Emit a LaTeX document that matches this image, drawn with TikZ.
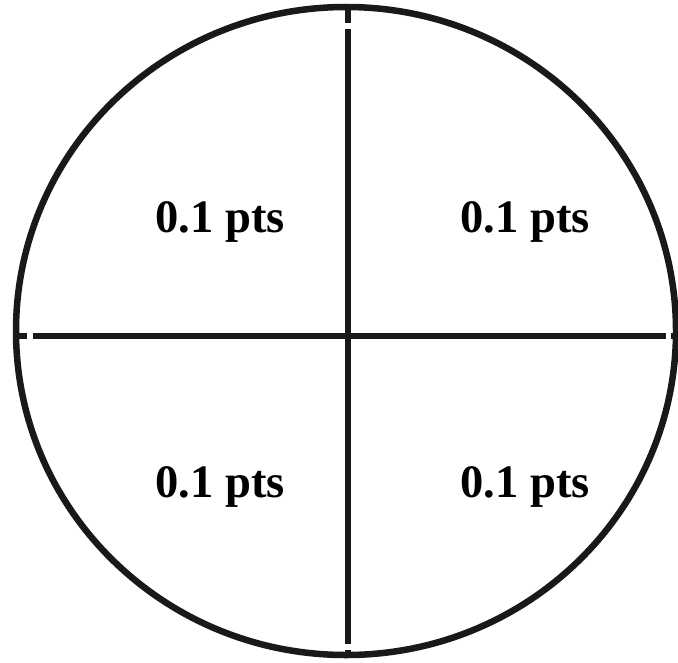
\documentclass[tikz,border=0pt]{standalone}
\usepackage{fontspec}
\setmainfont{Liberation Serif}
\usetikzlibrary{positioning}
\tikzset{
  rim/.style={line width=0.13cm, draw=black!90},
  quarter/.style={font=\bfseries\fontsize{26.5}{30}\selectfont, inner sep=0pt}
}

\begin{document}
\begin{tikzpicture}[x=0.02cm, y=-0.02cm]
    \useasboundingbox (0,0) rectangle (678,662);
    \coordinate (ctr) at (346,331);

    % Outer rim
    \draw[rim] (ctr) ellipse [x radius=330, y radius=324];

    % Dividing cross, with small breaks near the rim
    \draw[rim] (348,7) -- (348,23);
    \draw[rim] (348,29) -- (348,644);
    \draw[rim] (348,650) -- (348,656);
    \draw[rim] (16,336) -- (27,336);
    \draw[rim] (33,336) -- (666,336);
    \draw[rim] (671,336) -- (678,336);

    % Quarter labels
    \node[quarter] (ul) at (220,222) {0.1 pts};
    \node[quarter] (ur) at (525,222) {0.1 pts};
    \node[quarter] (ll) at (220,487) {0.1 pts};
    \node[quarter] (lr) at (525,487) {0.1 pts};
\end{tikzpicture}
\end{document}
